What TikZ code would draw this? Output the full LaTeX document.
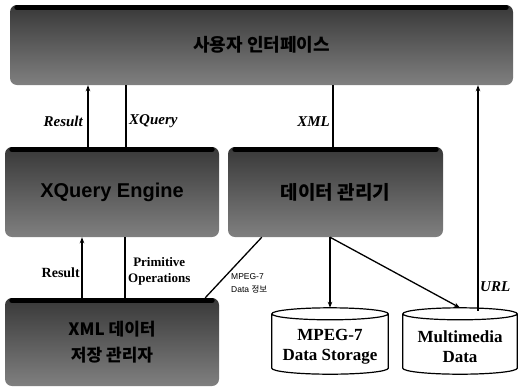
\documentclass[tikz,border=0pt]{standalone}
\usepackage{fontspec}
\setmainfont{Liberation Serif}
\newfontfamily\labsans{Liberation Sans}
\newfontfamily\kr{Noto Sans CJK KR}
\usetikzlibrary{arrows.meta,calc}

\tikzset{
  panel/.style={rectangle, rounded corners=7pt, top color=black!78, bottom color=black!50,
    draw=none, inner sep=0pt, align=center, text=black},
  paneltext/.style={align=center, text=black, inner sep=0pt},
  topband/.style={line width=5pt, black, line cap=round},
  cylgeom/.style={rectangle, inner sep=0pt, draw=none},
  cyltext/.style={align=center, font=\bfseries\fontsize{17}{20}\selectfont, inner sep=0pt},
  cylline/.style={line width=1.2pt},
  arr/.style={line width=1.3pt, -{Stealth[length=6pt,width=4.5pt]}},
  ln/.style={line width=1.3pt},
  lab/.style={font=\bfseries\fontsize{15}{17}\selectfont, inner sep=1pt},
  smalllab/.style={font=\labsans\fontsize{8.5}{13}\selectfont, align=left, inner sep=0pt}
}

% cylinder outline drawn around a geometry node
\newcommand\drumoutline[1]{%
  \draw[cylline] let \p1=(#1.north west), \p2=(#1.south east), \n1={(\x2-\x1)/2} in
    (\x1,\y1-6pt) -- (\x1,\y2+6pt)
    arc[start angle=180, end angle=360, x radius=\n1, y radius=6pt]
    -- (\x2,\y1-6pt)
    arc[start angle=0, end angle=180, x radius=\n1, y radius=6pt]
    arc[start angle=180, end angle=360, x radius=\n1, y radius=6pt];}

% raised top edge of a panel
\newcommand\paneledge[1]{%
  \draw[topband] ([xshift=7pt,yshift=-2.5pt]#1.north west) -- ([xshift=-7pt,yshift=-2.5pt]#1.north east);}

\begin{document}
\begin{tikzpicture}[x=1pt,y=-1pt]
\useasboundingbox (0,0) rectangle (518,391);

% panels
\node[panel, minimum width=503pt, minimum height=80pt] (app) at (261.5,45) {};
\node[panel, minimum width=214pt, minimum height=90pt, font=\labsans\bfseries\fontsize{20}{22}\selectfont]
  (xq) at (112,192) {XQuery Engine};
\node[panel, minimum width=215pt, minimum height=90pt] (mgr) at (335.5,192) {};
\node[panel, minimum width=214pt, minimum height=88pt] (store) at (112,342) {};
\paneledge{app}
\paneledge{xq}
\paneledge{mgr}
\paneledge{store}

% panel captions
\node[paneltext, font=\kr\bfseries\fontsize{18}{20}\selectfont] (appt) at (app.center) {사용자 인터페이스};
\node[paneltext, font=\kr\bfseries\fontsize{19}{21}\selectfont] (mgrt) at (mgr.center) {데이터 관리기};
\node[paneltext, font=\kr\bfseries\fontsize{17}{26}\selectfont] (storet) at (store.center) {XML 데이터\\저장 관리자};

% storage drums
\node[cylgeom, minimum width=116pt, minimum height=66pt] (mp7) at (330,341) {};
\node[cylgeom, minimum width=114pt, minimum height=66pt] (mm) at (460,341) {};
\drumoutline{mp7}
\drumoutline{mm}
\node[cyltext] (mp7t) at ([yshift=-6pt]mp7.center) {MPEG-7\\Data Storage};
\node[cyltext] (mmt) at ([yshift=-6pt]mm.center) {Multimedia\\Data};

% upper connectors
\draw[arr] ([xshift=-24pt]xq.north) -- ([xshift=-24pt]xq.north |- app.south);
\draw[ln] ([xshift=14pt]xq.north |- app.south) -- ([xshift=14pt]xq.north);
\draw[ln] ([xshift=-2.5pt]mgr.north |- app.south) -- ([xshift=-2.5pt]mgr.north);
\coordinate (urlfoot) at ([xshift=18pt,yshift=-3pt]mm.north);
\draw[arr] (urlfoot) -- (urlfoot |- app.south);

% lower connectors
\draw[arr] ([xshift=-30pt]store.north) -- ([xshift=-30pt]store.north |- xq.south);
\draw[ln] ([xshift=13pt]store.north) -- ([xshift=13pt]store.north |- xq.south);
\draw[ln] ([xshift=-14pt]store.north east) -- ([xshift=34pt]mgr.south west);
\coordinate (split) at (mgr.south -| mp7.north);
\draw[arr] (split) -- (mp7.north);
\draw[arr] (split) -- (mm.north);

% labels
\node[lab, anchor=east] (lres1) at (84,121) {\itshape Result};
\node[lab, anchor=west] (lxq) at (128,121) {\itshape XQuery};
\node[lab, anchor=east] (lxml) at (331,122) {\itshape XML};
\node[lab, anchor=west] (lurl) at (479,287) {\itshape URL};
\node[lab, anchor=east, font=\bfseries\fontsize{14}{16}\selectfont] (lres2) at (81,273) {Result};
\node[lab, anchor=west, align=center, font=\bfseries\fontsize{13}{16}\selectfont] (lprim) at (127,271) {Primitive\\Operations};
\node[smalllab, anchor=west] (lmeta) at (231,283) {MPEG-7\\Data {\kr 정보}};
\end{tikzpicture}
\end{document}
